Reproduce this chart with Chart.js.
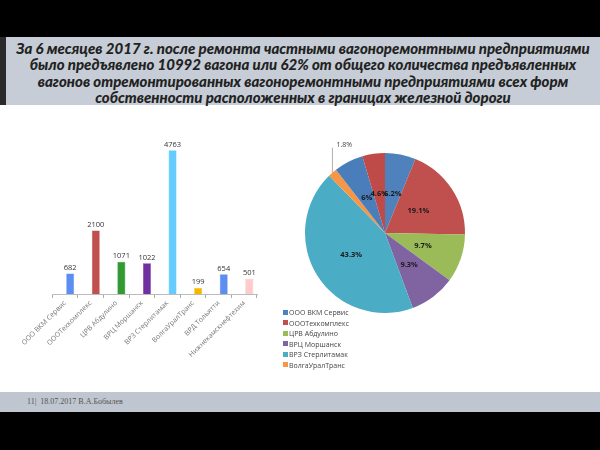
<!DOCTYPE html>
<html>
<head>
<meta charset="utf-8">
<script src="https://cdn.jsdelivr.net/npm/chart.js@4/dist/chart.umd.min.js"></script>
<style>
  html, body { margin: 0; padding: 0; }
  body { width: 600px; height: 450px; position: relative; background: #ffffff; overflow: hidden; font-family: "Open Sans", sans-serif; }
  #topband { position: absolute; left: 0; top: 0; width: 600px; height: 37px; background: #000; }
  #title { position: absolute; left: 6px; top: 37px; width: 594px; height: 68px; background: #c6cdd6;
           font-family: Lato, "Open Sans", sans-serif; font-weight: 900; font-style: italic; font-size: 15px;
           line-height: 16.3px; color: #222; text-align: center; box-sizing: border-box; padding-top: 3px; }
  #titleleft { position: absolute; left: 0; top: 37px; width: 6px; height: 68px; background: #2a2a2a; }
  #footer { position: absolute; left: 0; top: 392px; width: 600px; height: 20px; background: #bfc6cf; }
  #footer span { position: absolute; left: 27px; top: 5px; font-family: "Liberation Serif", serif; font-size: 8px; color: #555; }
  #botband { position: absolute; left: 0; top: 412px; width: 600px; height: 38px; background: #000; }
  #barwrap { position: absolute; left: 20px; top: 130px; width: 250px; height: 260px; }
  #piewrap { position: absolute; left: 290px; top: 140px; width: 190px; height: 186px; }
  #legend { position: absolute; left: 283px; top: 308px; font-family: "Open Sans", sans-serif; font-size: 7px; color: #444; }
  #legend div { height: 10.5px; line-height: 10.5px; white-space: nowrap; }
  #legend i { display: inline-block; width: 5px; height: 5px; margin-right: 1px; vertical-align: middle; position: relative; top: -1px; }
</style>
</head>
<body>
<div id="topband"></div>
<div id="titleleft"></div>
<div id="title">За 6 месяцев 2017 г. после ремонта частными вагоноремонтными предприятиями<br>было предъявлено 10992 вагона или 62% от общего количества предъявленных<br>вагонов отремонтированных вагоноремонтными предприятиями всех форм<br>собственности расположенных в границах железной дороги</div>
<div id="barwrap"><canvas id="bar" width="250" height="260"></canvas></div>
<div id="piewrap"><canvas id="pie" width="190" height="186"></canvas></div>
<div id="legend"></div>
<div id="footer"><span>11|&nbsp; 18.07.2017 В.А.Бобылев</span></div>
<div id="botband"></div>
<script>
const categories = ["ООО ВКМ Сервис", "ОООТехкомплекс", "ЦРВ Абдулино", "ВРЦ Моршанск", "ВРЗ Стерлитамак", "ВолгаУралТранс", "ВРД Тольятти", "Нижнекамскнефтехим"];
const values = [682, 2100, 1071, 1022, 4763, 199, 654, 501];
const emptySeries = [null, null, null, null, null, null, null, null];
const pieLabels = ["6.2%", "19.1%", "9.7%", "9.3%", "43.3%", "1.8%", "6%", "4.6%"];
const legendCount = 6;
const barColors = ["#5b8ef0", "#c0504d", "#339933", "#7030a0", "#66ccff", "#f5b800", "#5b8ef0", "#ffcccc"];
const pieColors = ["#4f81bd", "#c0504d", "#9bbb59", "#8064a2", "#4bacc6", "#f79646", "#4a7ebb", "#be4b48"];

const barLabelPlugin = {
  id: 'barLabels',
  afterDatasetsDraw(chart) {
    const ctx = chart.ctx;
    const meta = chart.getDatasetMeta(1);
    ctx.save();
    ctx.font = '7.5px "Open Sans", sans-serif';
    ctx.fillStyle = '#333';
    ctx.textAlign = 'center';
    ctx.textBaseline = 'bottom';
    meta.data.forEach((el, i) => {
      ctx.fillText(String(values[i]), el.x, el.y - 2);
    });
    ctx.restore();
  }
};

new Chart(document.getElementById('bar'), {
  type: 'bar',
  data: {
    labels: categories,
    datasets: [
      { data: emptySeries, backgroundColor: 'rgba(0,0,0,0)', barPercentage: 0.78, categoryPercentage: 0.8 },
      {
        data: values,
        backgroundColor: barColors,
        borderColor: barColors.map(c => c === '#ffcccc' ? '#f0b0b0' : c),
        borderWidth: 0.5,
        barPercentage: 0.78,
        categoryPercentage: 0.8
      }
    ]
  },
  options: {
    responsive: false,
    animation: false,
    layout: { padding: { top: 13, left: 32, right: 13, bottom: 0 } },
    plugins: { legend: { display: false }, tooltip: { enabled: false } },
    scales: {
      y: { display: false, min: 0, max: 5000 },
      x: {
        afterFit(scale) { scale.height = 96; },
        grid: { offset: true, drawOnChartArea: false, tickLength: 4, color: '#aaa', lineWidth: 1 },
        border: { color: '#bbb' },
        ticks: { minRotation: 45, maxRotation: 45, autoSkip: false, padding: 1, color: '#777', font: { size: 7, family: '"Open Sans", sans-serif' } }
      }
    }
  },
  plugins: [barLabelPlugin]
});

const pieLabelPlugin = {
  id: 'pieLabels',
  afterDatasetsDraw(chart) {
    const ctx = chart.ctx;
    const meta = chart.getDatasetMeta(0);
    ctx.save();
    ctx.textAlign = 'center';
    ctx.textBaseline = 'middle';
    meta.data.forEach((arc, i) => {
      if (i === 5) {
        const p = arc.getProps(['x', 'y', 'startAngle', 'endAngle', 'outerRadius'], true);
        const mid = (p.startAngle + p.endAngle) / 2;
        const ex = p.x + Math.cos(mid) * p.outerRadius;
        const ey = p.y + Math.sin(mid) * p.outerRadius;
        ctx.strokeStyle = '#999';
        ctx.lineWidth = 0.8;
        ctx.beginPath();
        ctx.moveTo(ex, ey);
        ctx.lineTo(ex, ey - 25);
        ctx.stroke();
        ctx.font = '7px "Open Sans", sans-serif';
        ctx.fillStyle = '#444';
        ctx.textAlign = 'left';
        ctx.fillText(pieLabels[i], ex + 4, ey - 28);
        ctx.textAlign = 'center';
      } else {
        const pos = arc.tooltipPosition();
        ctx.font = 'bold 7.5px "Open Sans", sans-serif';
        ctx.fillStyle = '#1a1a1a';
        ctx.fillText(pieLabels[i], pos.x, pos.y);
      }
    });
    ctx.restore();
  }
};

new Chart(document.getElementById('pie'), {
  type: 'pie',
  data: {
    labels: categories,
    datasets: [{ data: values, backgroundColor: pieColors, borderWidth: 0 }]
  },
  options: {
    responsive: false,
    animation: false,
    layout: { padding: { top: 13, bottom: 13, left: 15, right: 15 } },
    plugins: { legend: { display: false }, tooltip: { enabled: false } }
  },
  plugins: [pieLabelPlugin]
});

const legendEl = document.getElementById('legend');
for (let i = 0; i < legendCount; i++) {
  const d = document.createElement('div');
  const sw = document.createElement('i');
  sw.style.background = pieColors[i];
  d.appendChild(sw);
  d.appendChild(document.createTextNode(categories[i]));
  legendEl.appendChild(d);
}
</script>
</body>
</html>
